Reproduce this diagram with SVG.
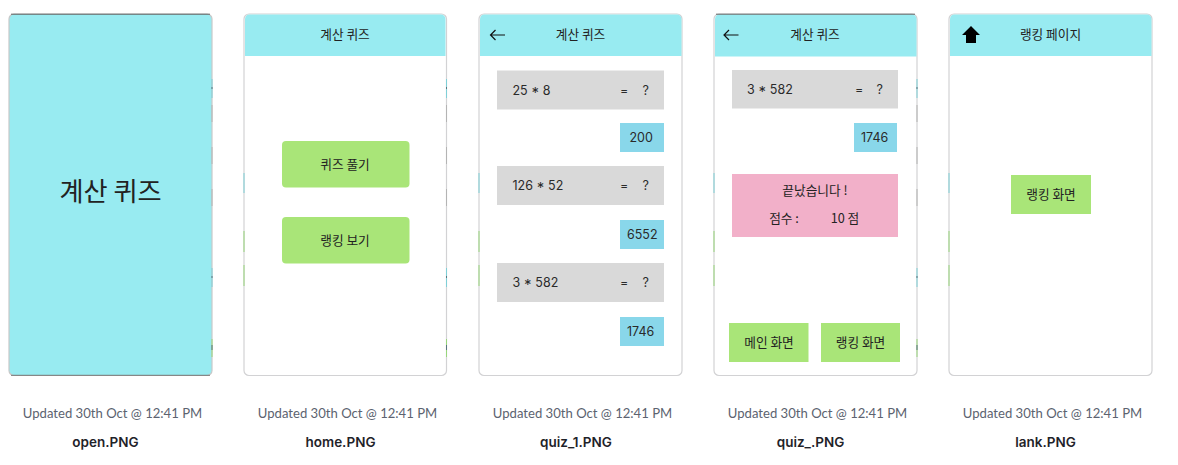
<svg xmlns="http://www.w3.org/2000/svg" xmlns:xlink="http://www.w3.org/1999/xlink" width="1178" height="465" viewBox="0 0 1178 465">
<style>
text{font-family:"Noto Sans CJK KR","Noto Sans",sans-serif;fill:#222;text-anchor:middle}
.num{font-family:"Inter","Noto Sans CJK KR",sans-serif;font-size:12.5px;text-anchor:start;fill:#2a2a2a}
.k{font-size:12.700px}
.u{font-family:"Lato","Noto Sans",sans-serif;font-size:13.100px;fill:#5c6370}
.n{font-family:"Inter","Noto Sans",sans-serif;font-size:13.500px;font-weight:600;fill:#1f2329}
.card{fill:#fff;stroke:#d2d2d4;stroke-width:1.2}
.sky{fill:#98ebf1}
.g{fill:#d9d9d9}
.b{fill:#89d7ea}
.l{fill:#a9e578}
.ar{fill:none;stroke:#111;stroke-width:1.2}
.st{fill:#7fd0d8}
.sg{fill:#98d67c}
.sn{fill:#b4b4b4}
.sd{fill:#5a7680}
</style>
<defs>
<g id="edgeR">
<rect class="st" x="0" y="79" width="1" height="19"/>
<rect class="sd" x="0" y="87" width="1" height="2"/>
<rect class="sn" x="0" y="105" width="1" height="17"/>
<rect class="sn" x="0" y="147" width="1" height="17"/>
<rect class="sn" x="0" y="189" width="1" height="17"/>
<rect class="st" x="0" y="268" width="1" height="19"/>
<rect class="sd" x="0" y="276" width="1" height="2"/>
<rect class="sg" x="0" y="339" width="1" height="18"/>
<rect class="sd" x="0" y="345" width="1" height="5"/>
</g>
<g id="edgeL">
<rect class="st" x="0" y="173" width="1" height="20"/>
<rect class="sg" x="0" y="231" width="1" height="21"/>
<rect class="sg" x="0" y="265" width="1" height="21"/>
</g>
</defs>
<rect width="1178" height="465" fill="#fff"/>
<g id="open">
<rect class="card" x="9" y="14" width="203" height="361.500" rx="5" style="fill:#98ebf1;stroke:#c8c8c8"/>
<path d="M11 14.200H210" stroke="#444" stroke-width="0.800" fill="none"/>
<path d="M11 375.300H210" stroke="#777" stroke-width="1" fill="none"/>
<use xlink:href="#edgeR" x="211.500"/>
<text x="110.500" y="201" font-size="26.200">계산 퀴즈</text>
<text class="u" x="112.500" y="418">Updated 30th Oct @ 12:41 PM</text>
<text class="n" x="105.500" y="447">open.PNG</text>
</g>
<g id="home">
<rect class="card" x="244" y="14" width="202.500" height="361.500" rx="5"/>
<path class="sky" d="M245 56V19a4.500 4.500 0 0 1 4.500-4.500H441a4.500 4.500 0 0 1 4.500 4.500V56Z"/>
<use xlink:href="#edgeR" x="446"/>
<use xlink:href="#edgeL" x="243.500"/>
<text class="k" x="345" y="39">계산 퀴즈</text>
<rect class="l" x="282" y="141" width="127.500" height="46.500" rx="4"/>
<text class="k" x="345" y="168.500">퀴즈 풀기</text>
<rect class="l" x="282" y="217" width="127.500" height="46.500" rx="4"/>
<text class="k" x="345" y="244.500">랭킹 보기</text>
<text class="u" x="347.500" y="418">Updated 30th Oct @ 12:41 PM</text>
<text class="n" x="340.500" y="447">home.PNG</text>
</g>
<g id="quiz_1">
<rect class="card" x="479" y="14" width="203" height="361.500" rx="5"/>
<path class="sky" d="M480 56V19a4.500 4.500 0 0 1 4.500-4.500H677a4.500 4.500 0 0 1 4.500 4.500V56Z"/>
<use xlink:href="#edgeL" x="478.500"/>
<path class="ar" d="M505 35H490.500M495.500 30L490.500 35L495.500 40"/>
<text class="k" x="580.500" y="39">계산 퀴즈</text>
<rect class="g" x="497" y="70.500" width="167" height="39"/>
<text class="num" x="512.500" y="95">25 * 8</text>
<text class="num" x="620" y="95">=</text>
<text class="num" x="642.500" y="95">?</text>
<rect class="b" x="620" y="123" width="44" height="29"/>
<text class="num" x="629.500" y="142">200</text>
<rect class="g" x="497" y="166" width="167" height="39"/>
<text class="num" x="512.500" y="190">126 * 52</text>
<text class="num" x="620" y="190">=</text>
<text class="num" x="642.500" y="190">?</text>
<rect class="b" x="620" y="220" width="44" height="29"/>
<text class="num" x="627" y="239">6552</text>
<rect class="g" x="497" y="263" width="167" height="39"/>
<text class="num" x="512.500" y="287">3 * 582</text>
<text class="num" x="620" y="287">=</text>
<text class="num" x="642.500" y="287">?</text>
<rect class="b" x="620" y="317" width="44" height="29"/>
<text class="num" x="627" y="336">1746</text>
<text class="u" x="582.500" y="418">Updated 30th Oct @ 12:41 PM</text>
<text class="n" x="576" y="447">quiz_1.PNG</text>
</g>
<g id="quiz_">
<rect class="card" x="714" y="14" width="203" height="361.500" rx="5"/>
<path class="sky" d="M715 56.500V19a4.500 4.500 0 0 1 4.500-4.500H912a4.500 4.500 0 0 1 4.500 4.500V56.500Z"/>
<path d="M716 14.200H915" stroke="#444" stroke-width="0.800" fill="none"/>
<use xlink:href="#edgeR" x="916.500"/>
<use xlink:href="#edgeL" x="713.500"/>
<path class="ar" d="M738.500 35H724M729 30L724 35L729 40"/>
<text class="k" x="815" y="39">계산 퀴즈</text>
<rect class="g" x="732" y="70" width="166" height="38.500"/>
<text class="num" x="747" y="94">3 * 582</text>
<text class="num" x="855" y="94">=</text>
<text class="num" x="876.500" y="94">?</text>
<rect class="b" x="854" y="123" width="43" height="29"/>
<text class="num" x="861" y="142">1746</text>
<rect x="732" y="174" width="166" height="63" fill="#f2b0c9"/>
<text class="k" x="815" y="194.500">끝났습니다 !</text>
<text class="k" x="784" y="222.500">점수 :</text>
<text class="k" x="845" y="222.500">10 점</text>
<rect class="l" x="729" y="323" width="79.500" height="39"/>
<text class="k" x="769" y="346.500">메인 화면</text>
<rect class="l" x="821" y="323" width="79" height="39"/>
<text class="k" x="860.500" y="346.500">랭킹 화면</text>
<text class="u" x="817.500" y="418">Updated 30th Oct @ 12:41 PM</text>
<text class="n" x="810.500" y="447">quiz_.PNG</text>
</g>
<g id="lank">
<rect class="card" x="949" y="14" width="203" height="361.500" rx="5"/>
<path class="sky" d="M950 56V19a4.500 4.500 0 0 1 4.500-4.500H1147a4.500 4.500 0 0 1 4.500 4.500V56Z"/>
<use xlink:href="#edgeL" x="948.500"/>
<path d="M971 26L980 35H976V43H966V35H962Z" fill="#000"/>
<text class="k" x="1050.500" y="39">랭킹 페이지</text>
<rect class="l" x="1011" y="175" width="80" height="39"/>
<text class="k" x="1051" y="199">랭킹 화면</text>
<text class="u" x="1052.500" y="418">Updated 30th Oct @ 12:41 PM</text>
<text class="n" x="1045.500" y="447">lank.PNG</text>
</g>
<g id="connectors"/>
</svg>
